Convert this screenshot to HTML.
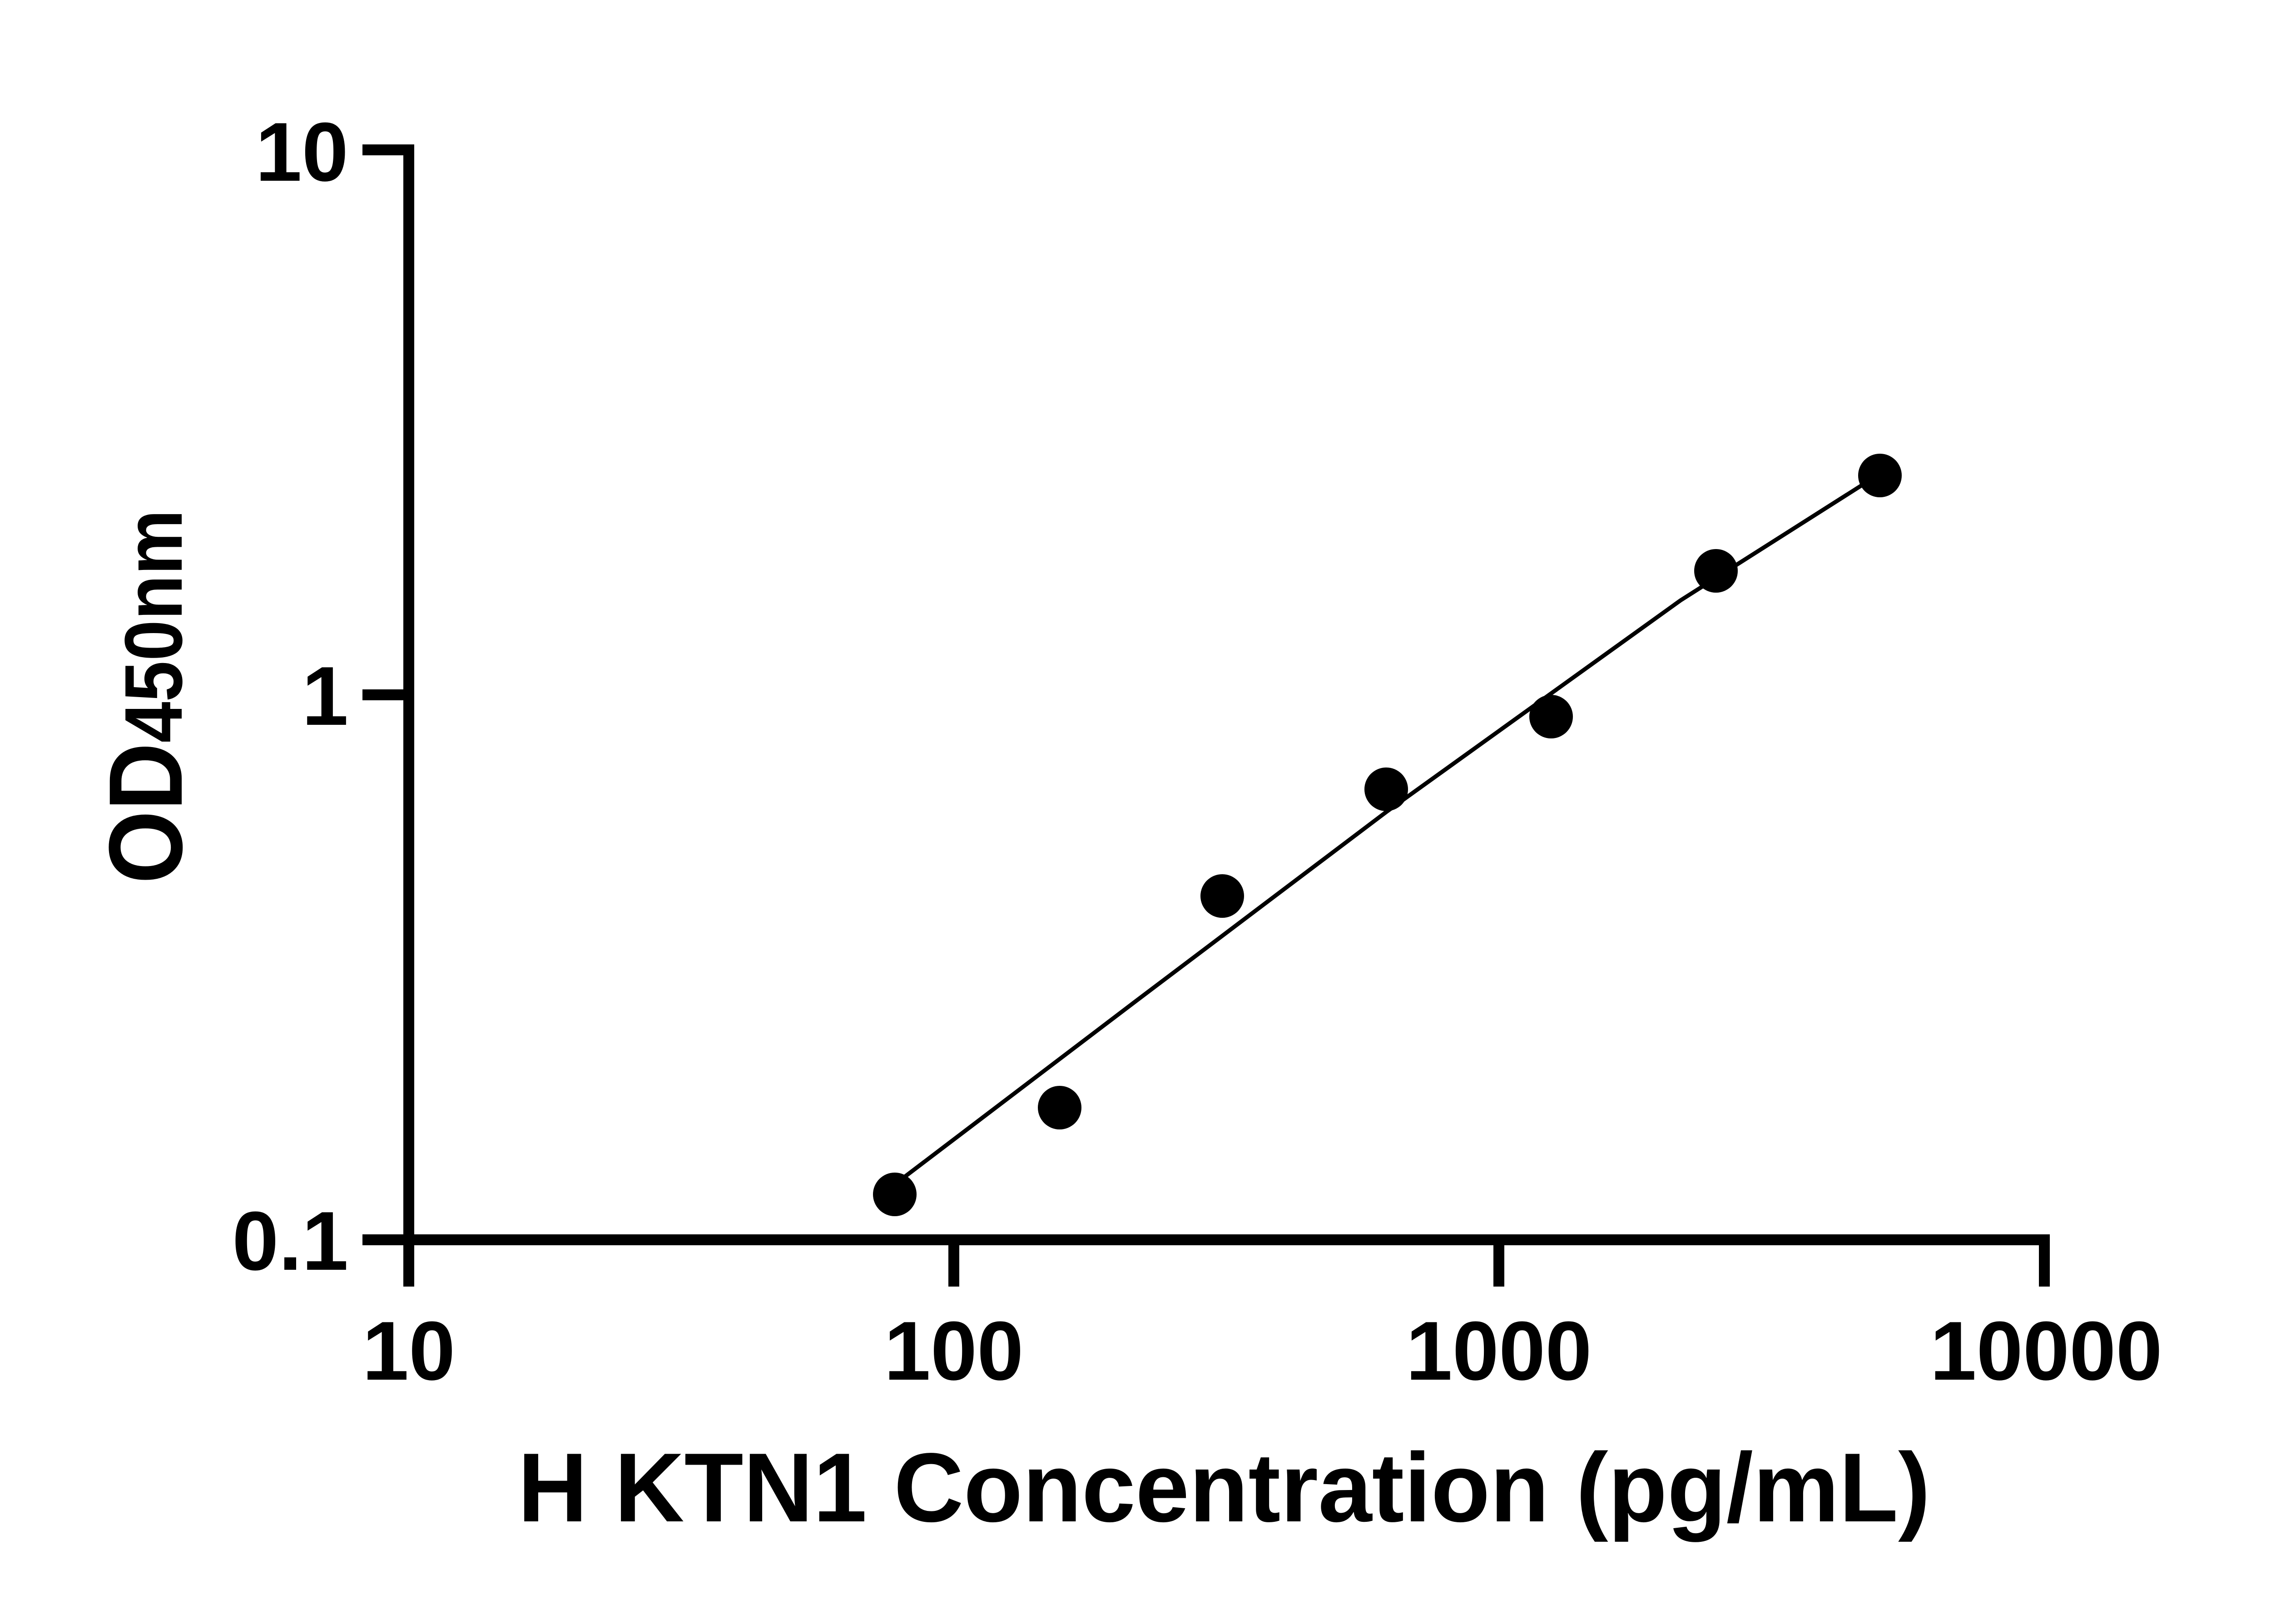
<!DOCTYPE html>
<html><head><meta charset="utf-8"><style>
html,body{margin:0;padding:0;background:#fff;}
svg{display:block;}
</style></head><body>
<svg width="5070" height="3576" viewBox="0 0 5070 3576" xmlns="http://www.w3.org/2000/svg">
<rect width="5070" height="3576" fill="#fff"/>
<g stroke="#000" fill="none" stroke-linecap="butt">
<line x1="900" y1="318" x2="900" y2="2833" stroke-width="24"/>
<line x1="798" y1="2730" x2="4513" y2="2730" stroke-width="24"/>
<line x1="798" y1="330" x2="912" y2="330" stroke-width="24"/>
<line x1="798" y1="1530" x2="900" y2="1530" stroke-width="24"/>
<line x1="2100" y1="2730" x2="2100" y2="2833" stroke-width="24"/>
<line x1="3300" y1="2730" x2="3300" y2="2833" stroke-width="24"/>
<line x1="4501" y1="2719" x2="4501" y2="2833" stroke-width="24"/>
<polyline points="1979,2601 2500,2205 3052,1788 3700,1322 4103,1066" stroke-width="9" stroke-linejoin="round"/>
</g>
<g fill="#000">
<circle cx="1970" cy="2630" r="48"/>
<circle cx="2333" cy="2439" r="48"/>
<circle cx="2691" cy="1973" r="48"/>
<circle cx="3052" cy="1738" r="48"/>
<circle cx="3415" cy="1578" r="48"/>
<circle cx="3778" cy="1257" r="48"/>
<circle cx="4139" cy="1047" r="48"/>
</g>
<g font-family="Liberation Sans, Arial, sans-serif" font-weight="bold" font-size="184" fill="#000">
<text x="767" y="398" text-anchor="end">10</text>
<text x="767" y="1596" text-anchor="end">1</text>
<text x="767" y="2796" text-anchor="end">0.1</text>
<text x="900" y="3038" text-anchor="middle">10</text>
<text x="2100" y="3038" text-anchor="middle">100</text>
<text x="3300" y="3038" text-anchor="middle">1000</text>
<text x="4505" y="3038" text-anchor="middle">10000</text>
<text x="1140" y="3350" font-size="216" textLength="3110" lengthAdjust="spacingAndGlyphs">H KTN1 Concentration (pg/mL)</text>
<text transform="translate(400,1946) rotate(-90)" font-size="230" textLength="824" lengthAdjust="spacingAndGlyphs">OD<tspan font-size="180">450nm</tspan></text>
</g>
</svg>
</body></html>
